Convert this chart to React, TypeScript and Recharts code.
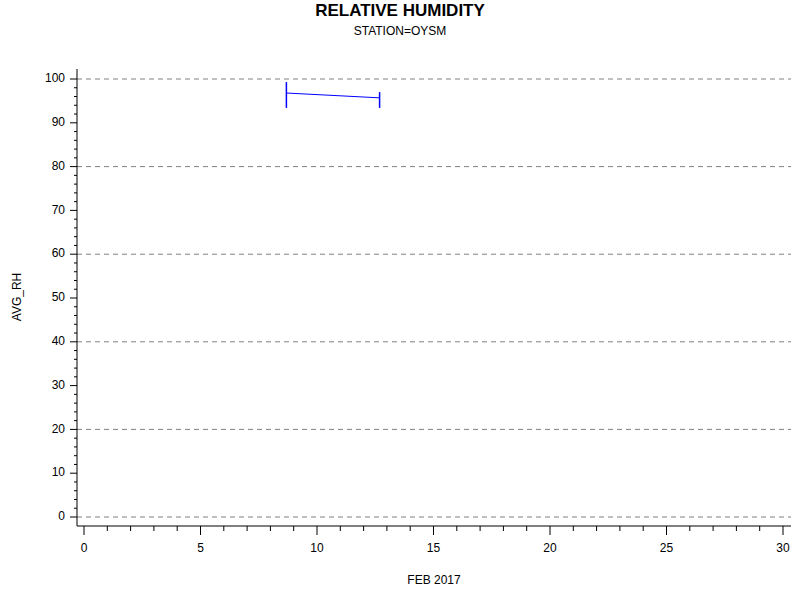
import React from "react";
import {
  ComposedChart,
  Line,
  Bar,
  XAxis,
  YAxis,
  ReferenceLine,
} from "recharts";

// day of month (fractional), mean RH, daily low / high
const days = [8.68, 12.68];
const avgRh = [96.8, 95.7];
const lowRh = [93.4, 93.4];
const highRh = [99.3, 97.0];

const xMajor = [0, 5, 10, 15, 20, 25, 30];
const yMajor = [0, 10, 20, 30, 40, 50, 60, 70, 80, 90, 100];
const gridLines = [0, 20, 40, 60, 80, 100];

const xTicks = Array.from({ length: 31 }, (_, i) => i);
const yTicks = Array.from({ length: 51 }, (_, i) => i * 2);

const data = days.map((d, i) => ({
  day: d,
  rh: avgRh[i],
  range: [lowRh[i], highRh[i]],
}));

const FONT = "'Liberation Sans', Arial, sans-serif";

const XTick = (props: any) => {
  const { x, y, payload } = props;
  const major = xMajor.includes(payload.value);
  return (
    <g>
      <line x1={x} x2={x} y1={y} y2={y + (major ? 9 : 5)} stroke="#000" />
      {major && (
        <text
          x={x}
          y={y + 23}
          textAnchor="middle"
          dominantBaseline="middle"
          fontSize={12}
          fontFamily={FONT}
          fill="#000"
        >
          {payload.value}
        </text>
      )}
    </g>
  );
};

const YTick = (props: any) => {
  const { x, y, payload } = props;
  const major = yMajor.includes(payload.value);
  return (
    <g>
      <line x1={x - (major ? 7 : 3)} x2={x} y1={y} y2={y} stroke="#000" />
      {major && (
        <text
          x={x - 12}
          y={y}
          textAnchor="end"
          dominantBaseline="middle"
          fontSize={12}
          fontFamily={FONT}
          fill="#000"
        >
          {payload.value}
        </text>
      )}
    </g>
  );
};

export default function App() {
  return (
    <div
      style={{
        position: "absolute",
        left: 0,
        top: 0,
        width: 800,
        height: 600,
        background: "#fff",
        fontFamily: FONT,
      }}
    >
      <div
        style={{
          position: "absolute",
          top: 0,
          width: 800,
          textAlign: "center",
          fontSize: 17,
          fontWeight: "bold",
          lineHeight: "22px",
        }}
      >
        RELATIVE HUMIDITY
      </div>
      <div
        style={{
          position: "absolute",
          top: 23,
          width: 800,
          textAlign: "center",
          fontSize: 12,
          lineHeight: "16px",
        }}
      >
        STATION=OYSM
      </div>
      <div
        style={{
          position: "absolute",
          top: 572,
          left: 334,
          width: 200,
          textAlign: "center",
          fontSize: 12,
          lineHeight: "16px",
        }}
      >
        FEB 2017
      </div>
      <div
        style={{
          position: "absolute",
          top: 289,
          left: -33,
          width: 100,
          textAlign: "center",
          fontSize: 12,
          lineHeight: "16px",
          transform: "rotate(-90deg)",
        }}
      >
        AVG_RH
      </div>
      <ComposedChart
        width={800}
        height={600}
        data={data}
        margin={{ top: 69, right: 9, bottom: 0, left: 0 }}
        style={{ position: "absolute", left: 0, top: 0 }}
      >
        <XAxis
          xAxisId="b"
          dataKey="day"
          type="number"
          domain={[0, 30]}
          ticks={xTicks}
          interval={0}
          height={74}
          padding={{ left: 7, right: 8 }}
          tickSize={0}
          tickMargin={0}
          tickLine={false}
          axisLine={{ stroke: "#000" }}
          tick={<XTick />}
        />
        <XAxis
          xAxisId="t"
          orientation="top"
          type="number"
          dataKey="day"
          domain={[0, 30]}
          height={0}
          tick={false}
          tickLine={false}
          axisLine={{ stroke: "#000" }}
        />
        <YAxis
          yAxisId="l"
          type="number"
          domain={[0, 100]}
          ticks={yTicks}
          interval={0}
          width={77}
          padding={{ top: 10, bottom: 9 }}
          tickSize={0}
          tickMargin={0}
          tickLine={false}
          axisLine={{ stroke: "#000" }}
          tick={<YTick />}
        />
        <YAxis
          yAxisId="r"
          orientation="right"
          type="number"
          domain={[0, 100]}
          width={0}
          tick={false}
          tickLine={false}
          axisLine={{ stroke: "#000" }}
        />
        {gridLines.map((v) => (
          <ReferenceLine
            key={v}
            xAxisId="b"
            yAxisId="l"
            y={v}
            stroke="#808080"
            strokeDasharray="5 4"
          />
        ))}
        <Bar
          xAxisId="b"
          yAxisId="l"
          dataKey="range"
          barSize={1.5}
          fill="#0000ff"
          isAnimationActive={false}
        />
        <Line
          xAxisId="b"
          yAxisId="l"
          dataKey="rh"
          stroke="#0000ff"
          strokeWidth={1}
          dot={false}
          activeDot={false}
          isAnimationActive={false}
        />
      </ComposedChart>
    </div>
  );
}
